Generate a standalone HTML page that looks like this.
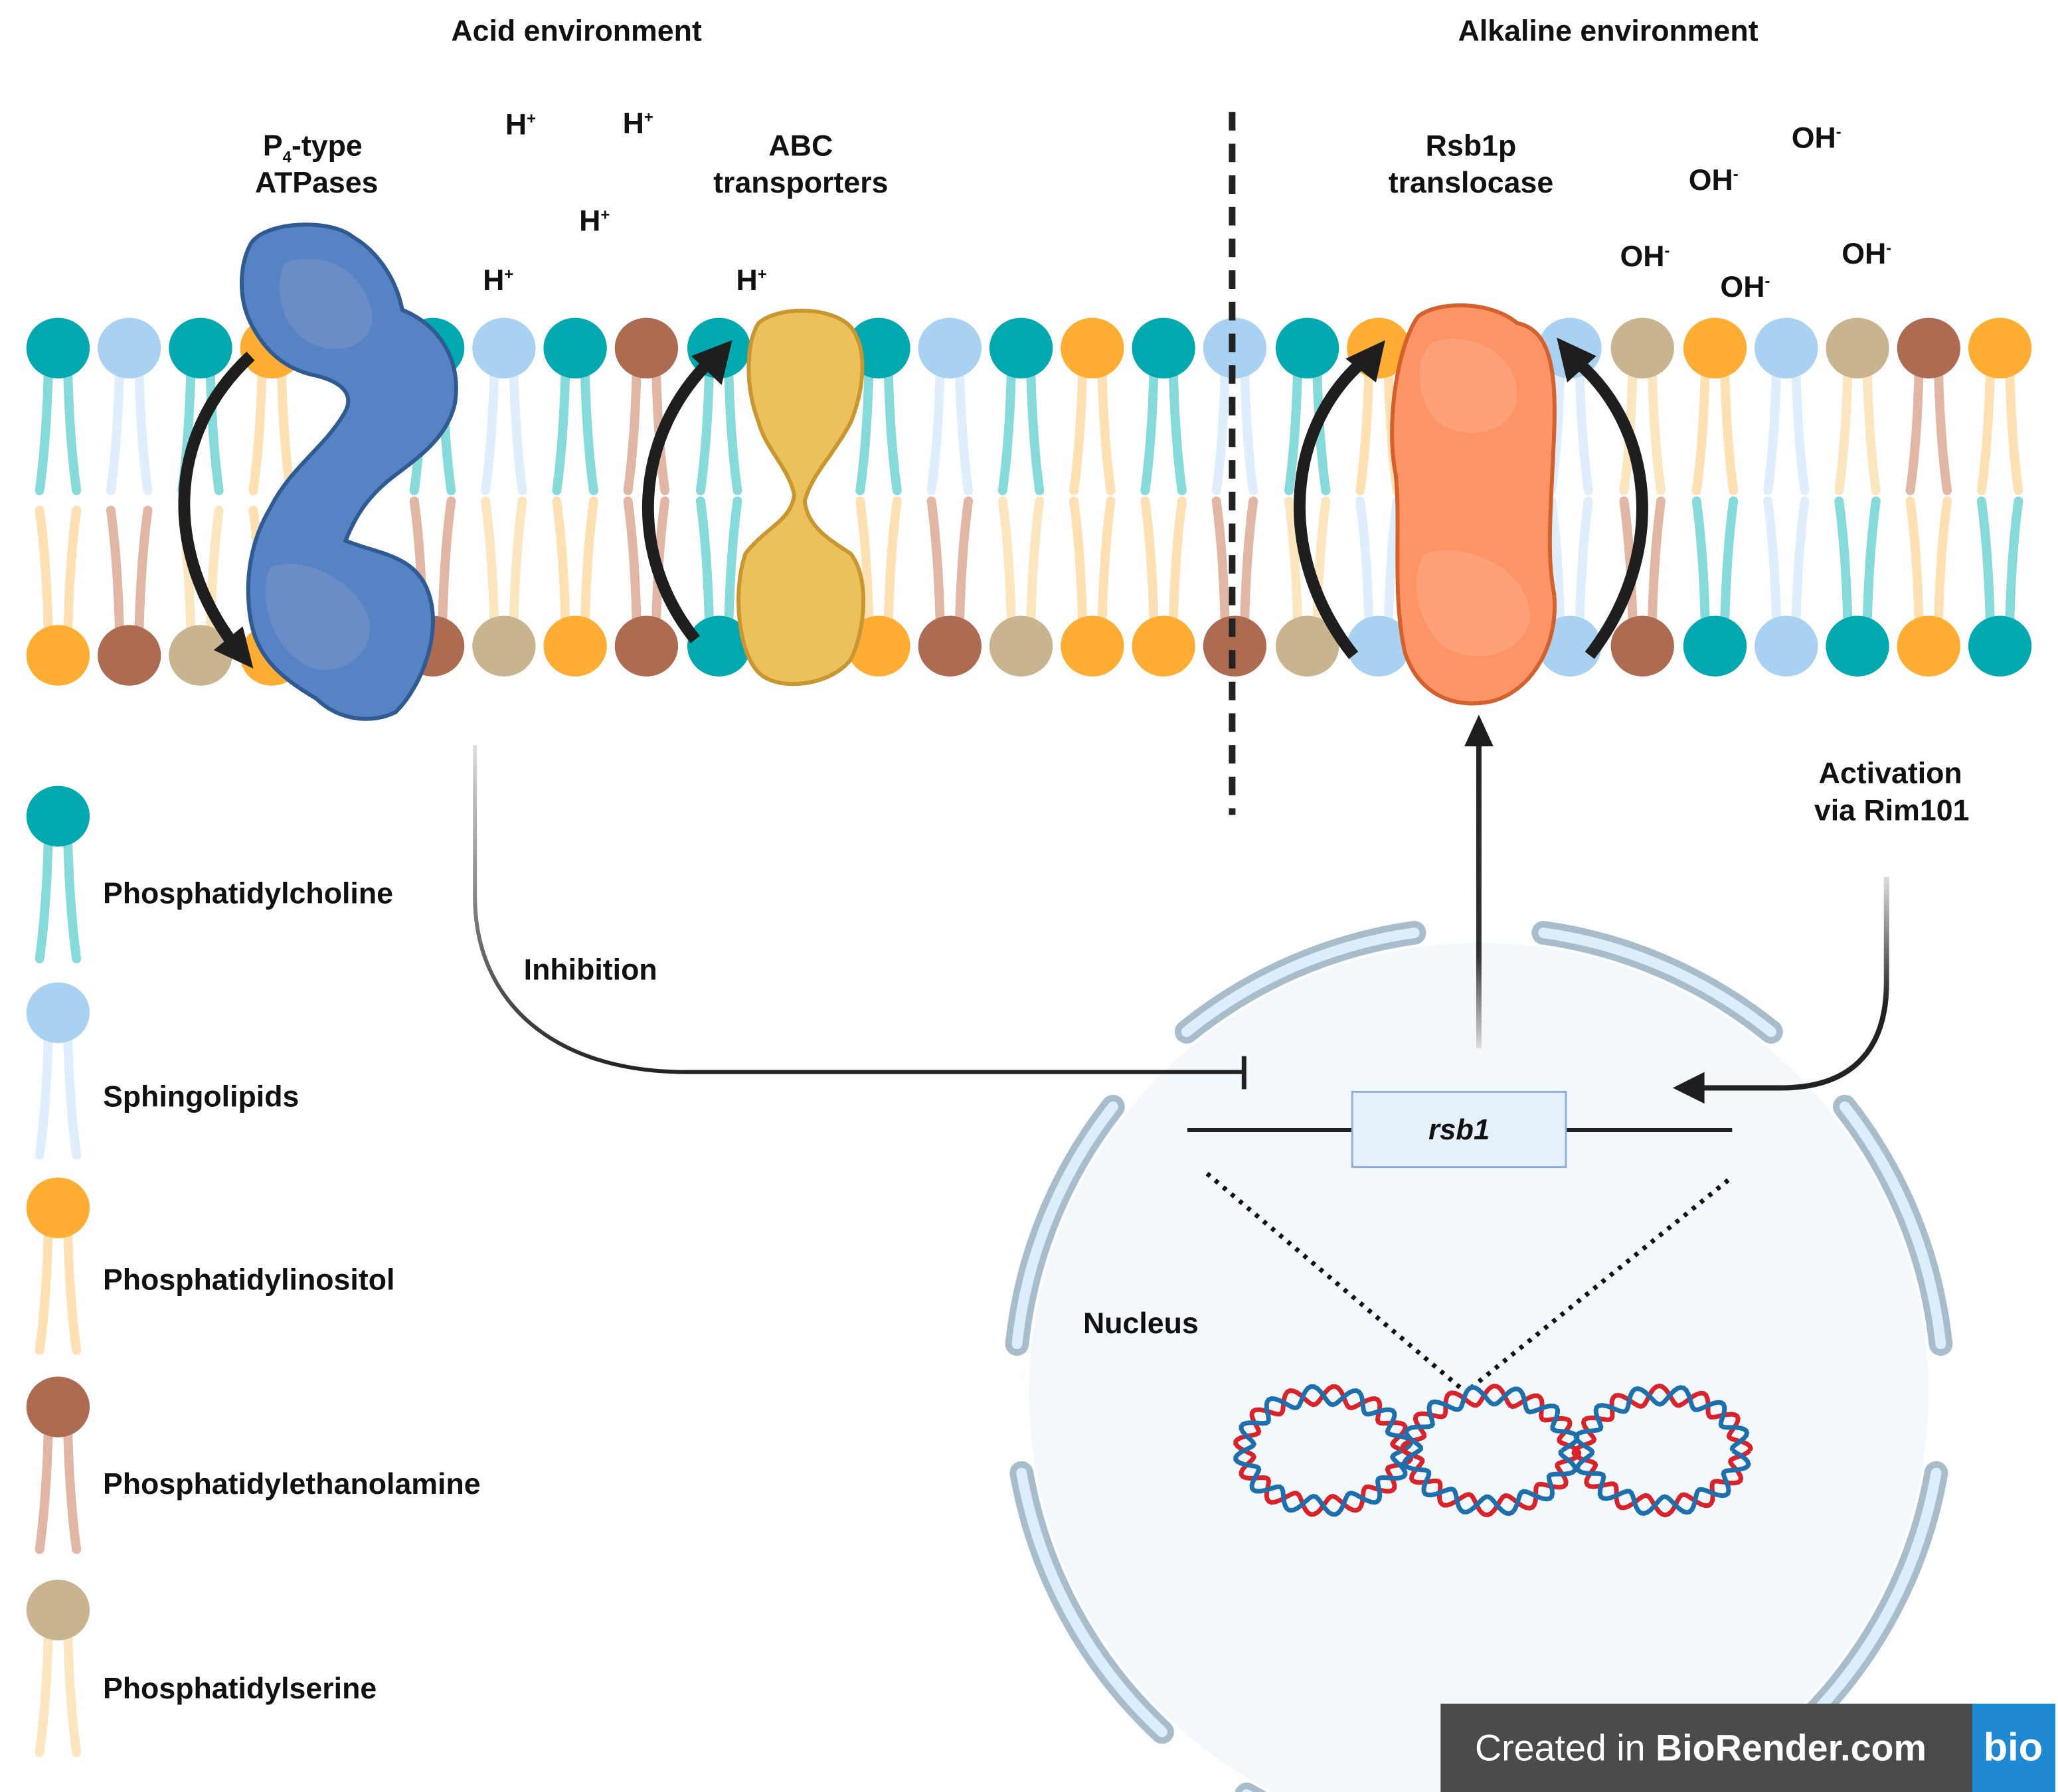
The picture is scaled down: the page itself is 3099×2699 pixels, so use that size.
<!DOCTYPE html>
<html><head><meta charset="utf-8"><style>
html,body{margin:0;padding:0;background:#fff;}
svg{display:block;}
text{font-family:"Liberation Sans",sans-serif;font-weight:bold;fill:#111;}
</style></head><body>
<svg id="s" width="3099" height="2699" viewBox="0 0 1560 1359" preserveAspectRatio="none" xmlns="http://www.w3.org/2000/svg">
<defs>
<linearGradient id="gi" x1="0" y1="0" x2="0" y2="1"><stop offset="0" stop-color="#ddd"/><stop offset="1" stop-color="#222"/></linearGradient>
<linearGradient id="gu" gradientUnits="userSpaceOnUse" x1="0" y1="795" x2="0" y2="560"><stop offset="0" stop-color="#ddd"/><stop offset="0.3" stop-color="#333"/><stop offset="1" stop-color="#222"/></linearGradient>
<linearGradient id="ga" x1="0" y1="0" x2="0" y2="1"><stop offset="0" stop-color="#ddd"/><stop offset="0.6" stop-color="#222"/></linearGradient>
</defs>
<circle cx="1121" cy="1056" r="341" fill="#F3F8FD"/>
<g id="env"></g>
<g id="lipids"></g>
<line x1="934" y1="85" x2="934" y2="618" stroke="#222" stroke-width="5" stroke-dasharray="14,10"/>
<path d="M190,185 C200,168 250,165 268,180 C285,190 300,210 305,235 C330,245 350,270 345,305 C340,330 320,345 300,360 C280,375 270,390 262,410 C285,420 315,420 325,450 C335,480 320,520 300,540 C280,550 255,545 240,530 C215,515 195,500 190,470 C185,440 190,410 205,385 C220,355 245,340 260,315 C270,300 260,290 240,285 C215,280 200,265 190,245 C180,225 182,200 190,185 Z" fill="#5583C4" stroke="#2F5A92" stroke-width="3"/>
<path d="M215,200 C240,190 270,200 280,230 C290,260 260,270 240,262 C220,255 205,230 215,200 Z M205,430 C230,420 270,440 280,470 C285,500 250,520 225,500 C205,485 195,450 205,430 Z" fill="#7391C8" opacity="0.7"/>
<path d="M575,245 C590,232 630,232 645,248 C658,265 655,295 645,320 C632,345 615,360 610,380 C612,400 630,410 645,420 C660,440 655,480 645,500 C630,520 590,525 575,510 C560,495 555,450 565,420 C580,400 600,395 602,375 C598,355 580,340 575,320 C565,295 565,260 575,245 Z" fill="#ECC15C" stroke="#C9962F" stroke-width="3"/>
<path d="M1075,240 C1090,228 1130,228 1150,245 C1175,250 1180,280 1178,330 C1176,380 1172,420 1178,450 C1182,490 1160,525 1130,532 C1100,538 1075,525 1065,495 C1055,450 1062,400 1058,360 C1050,320 1060,260 1075,240 Z" fill="#FC9466" stroke="#D4602D" stroke-width="3"/>
<path d="M1085,260 C1110,250 1150,265 1150,300 C1148,330 1110,335 1090,320 C1075,305 1070,275 1085,260 Z M1080,420 C1110,410 1160,430 1160,470 C1150,505 1100,505 1085,480 C1072,460 1070,435 1080,420 Z" fill="#FDA880" opacity="0.7"/>
<g fill="none" stroke="#1E1E1E" stroke-width="9">
<path d="M190,270 C125,330 125,420 178,490"/>
<path d="M527,485 C475,420 480,330 540,272"/>
<path d="M1026,497 C965,420 975,320 1038,270"/>
<path d="M1205,497 C1265,420 1255,320 1190,270"/>
</g>
<g fill="#1E1E1E">
<polygon points="192,507 162,493 184,475"/>
<polygon points="555,258 547,292 524,270"/>
<polygon points="1050,258 1043,290 1020,272"/>
<polygon points="1180,256 1210,270 1188,290"/>
</g>
<path d="M360,565 L360,680 C360,760 420,813 520,813 L942,813" fill="none" stroke="url(#gi)" stroke-width="3"/>
<line x1="520" y1="813" x2="942" y2="813" stroke="#222" stroke-width="3"/>
<line x1="943" y1="801" x2="943" y2="826" stroke="#222" stroke-width="3.5"/>
<line x1="1121" y1="795" x2="1121" y2="560" stroke="url(#gu)" stroke-width="4"/>
<polygon points="1121,542 1110,566 1132,566" fill="#1E1E1E"/>
<path d="M1430,665 L1430,745 C1430,800 1400,825 1350,825 L1290,825" fill="none" stroke="url(#ga)" stroke-width="4"/>
<polygon points="1268,825 1292,813 1292,837" fill="#1E1E1E"/>
<line x1="900" y1="857" x2="1025" y2="857" stroke="#222" stroke-width="3"/>
<line x1="1187" y1="857" x2="1313" y2="857" stroke="#222" stroke-width="3"/>
<rect x="1025" y="828" width="162" height="57" fill="#E6F0FB" stroke="#8FB0DF" stroke-width="1.5"/>
<text x="1106" y="864" font-size="22" text-anchor="middle" font-style="italic">rsb1</text>
<line x1="915" y1="890" x2="1110" y2="1055" stroke="#111" stroke-width="3.5" stroke-dasharray="3,5"/>
<line x1="1310" y1="895" x2="1112" y2="1055" stroke="#111" stroke-width="3.5" stroke-dasharray="3,5"/>
<g id="dna"></g>
<g font-size="22.5">
<text x="437" y="31" text-anchor="middle">Acid environment</text>
<text x="1219" y="31" text-anchor="middle">Alkaline environment</text>
<text x="237" y="118" text-anchor="middle">P<tspan font-size="12" dy="5">4</tspan><tspan dy="-5">-type</tspan></text>
<text x="240" y="146" text-anchor="middle">ATPases</text>
<text x="607" y="118" text-anchor="middle">ABC</text>
<text x="607" y="146" text-anchor="middle">transporters</text>
<text x="1115" y="118" text-anchor="middle">Rsb1p</text>
<text x="1115" y="146" text-anchor="middle">translocase</text>
<text x="383" y="102">H<tspan font-size="12" dy="-8">+</tspan></text>
<text x="472" y="101">H<tspan font-size="12" dy="-8">+</tspan></text>
<text x="439" y="175">H<tspan font-size="12" dy="-8">+</tspan></text>
<text x="366" y="220">H<tspan font-size="12" dy="-8">+</tspan></text>
<text x="558" y="220">H<tspan font-size="12" dy="-8">+</tspan></text>
<text x="1358" y="112">OH<tspan font-size="12" dy="-8">-</tspan></text>
<text x="1280" y="144">OH<tspan font-size="12" dy="-8">-</tspan></text>
<text x="1228" y="202">OH<tspan font-size="12" dy="-8">-</tspan></text>
<text x="1304" y="225">OH<tspan font-size="12" dy="-8">-</tspan></text>
<text x="1396" y="200">OH<tspan font-size="12" dy="-8">-</tspan></text>
<text x="1433" y="594" text-anchor="middle">Activation</text>
<text x="1434" y="622" text-anchor="middle">via Rim101</text>
<text x="397" y="743">Inhibition</text>
<text x="821" y="1011">Nucleus</text>
<text x="78" y="685">Phosphatidylcholine</text>
<text x="78" y="839">Sphingolipids</text>
<text x="78" y="978">Phosphatidylinositol</text>
<text x="78" y="1133">Phosphatidylethanolamine</text>
<text x="78" y="1288">Phosphatidylserine</text>
</g>
<rect x="1092" y="1292" width="466" height="67" fill="#4B4B4B"/>
<rect x="1495" y="1292" width="63" height="67" fill="#1E88D2"/>
<text x="1118" y="1335" font-size="28" style="fill:#fff;font-weight:normal">Created in <tspan style="font-weight:bold">BioRender.com</tspan></text>
<text x="1526" y="1335" font-size="30" text-anchor="middle" style="fill:#fff">bio</text>
</svg>
<script>
(function(){
var NS="http://www.w3.org/2000/svg";
function el(p,t,a){var e=document.createElementNS(NS,t);for(var k in a)e.setAttribute(k,a[k]);p.appendChild(e);return e;}
var C={t:["#00A9B0","#86DAD9"],b:["#A9D1F1","#DEEEFC"],o:["#FFAD33","#FFE0B3"],r:["#AD6B52","#E2B6A5"],s:["#C8B58F","#FCE6C0"]};
var L=document.getElementById("lipids");
function lipid(x,y,c,dir,len){
  var col=C[c];
  var g=el(L,"g",{});
  var end=y+dir*len;
  el(g,"path",{d:"M"+(x-7)+","+y+" Q"+(x-8)+","+(y+dir*len*0.6)+" "+(x-14)+","+end,stroke:col[1],"stroke-width":7,fill:"none","stroke-linecap":"round"});
  el(g,"path",{d:"M"+(x+7)+","+y+" Q"+(x+8)+","+(y+dir*len*0.6)+" "+(x+14)+","+end,stroke:col[1],"stroke-width":7,fill:"none","stroke-linecap":"round"});
  el(g,"ellipse",{cx:x,cy:y,rx:24,ry:23,fill:col[0]});
}
var xs=[44,98,152,206,328,382,436,490,545,666,720,774,828,882,936,991,1045,1190,1245,1300,1354,1408,1462,1516];
var tp=["t","b","t","o","t","b","t","r","t","t","b","t","o","t","b","t","o","b","s","o","b","s","r","o"];
var bt=["o","r","s","o","r","s","o","r","t","o","r","s","o","o","r","s","b","b","r","t","b","t","o","t"];
for(var i=0;i<xs.length;i++){
  var yb=xs[i]<300?497:490;
  lipid(xs[i],yb,bt[i],-1,110);
}
for(var i=0;i<xs.length;i++){lipid(xs[i],264,tp[i],1,108);}
var leg=[[619,"t"],[768,"b"],[916,"o"],[1067,"r"],[1221,"s"]];
leg.forEach(function(a){lipid(44,a[0],a[1],1,108);});
var E=document.getElementById("env");
function arc(a1,a2){
  var cx=1121,cy=1056,R=352,r=Math.PI/180;
  var x1=cx+R*Math.cos(a1*r),y1=cy+R*Math.sin(a1*r),x2=cx+R*Math.cos(a2*r),y2=cy+R*Math.sin(a2*r);
  var d="M"+x1+","+y1+" A"+R+","+R+" 0 0 1 "+x2+","+y2;
  el(E,"path",{d:d,stroke:"#A7BDCC","stroke-width":18,fill:"none","stroke-linecap":"round"});
  el(E,"path",{d:d,stroke:"#DCEDFB","stroke-width":8,fill:"none","stroke-linecap":"round"});
}
arc(-129,-98);arc(-82,-51);arc(-174,-142);arc(-38,-6);arc(133,170);arc(10,50);arc(100,120);arc(60,80);
var D=document.getElementById("dna");
function loop(cx,cy,phase){
  ["#D8232A","#1E6FAE"].forEach(function(col,k){
    var d="";
    for(var i=0;i<=360;i+=2){
      var t=i*Math.PI/180;
      var w=7*Math.sin(t*12+k*Math.PI+phase);
      var x=cx+(60+w)*Math.cos(t),y=cy+(42+w)*Math.sin(t);
      d+=(i?"L":"M")+x.toFixed(1)+","+y.toFixed(1);
    }
    el(D,"path",{d:d,stroke:col,"stroke-width":3.5,fill:"none"});
  });
}
loop(1003,1100,0);loop(1130,1100,1);loop(1260,1100,2);
})();
</script>
</body></html>
